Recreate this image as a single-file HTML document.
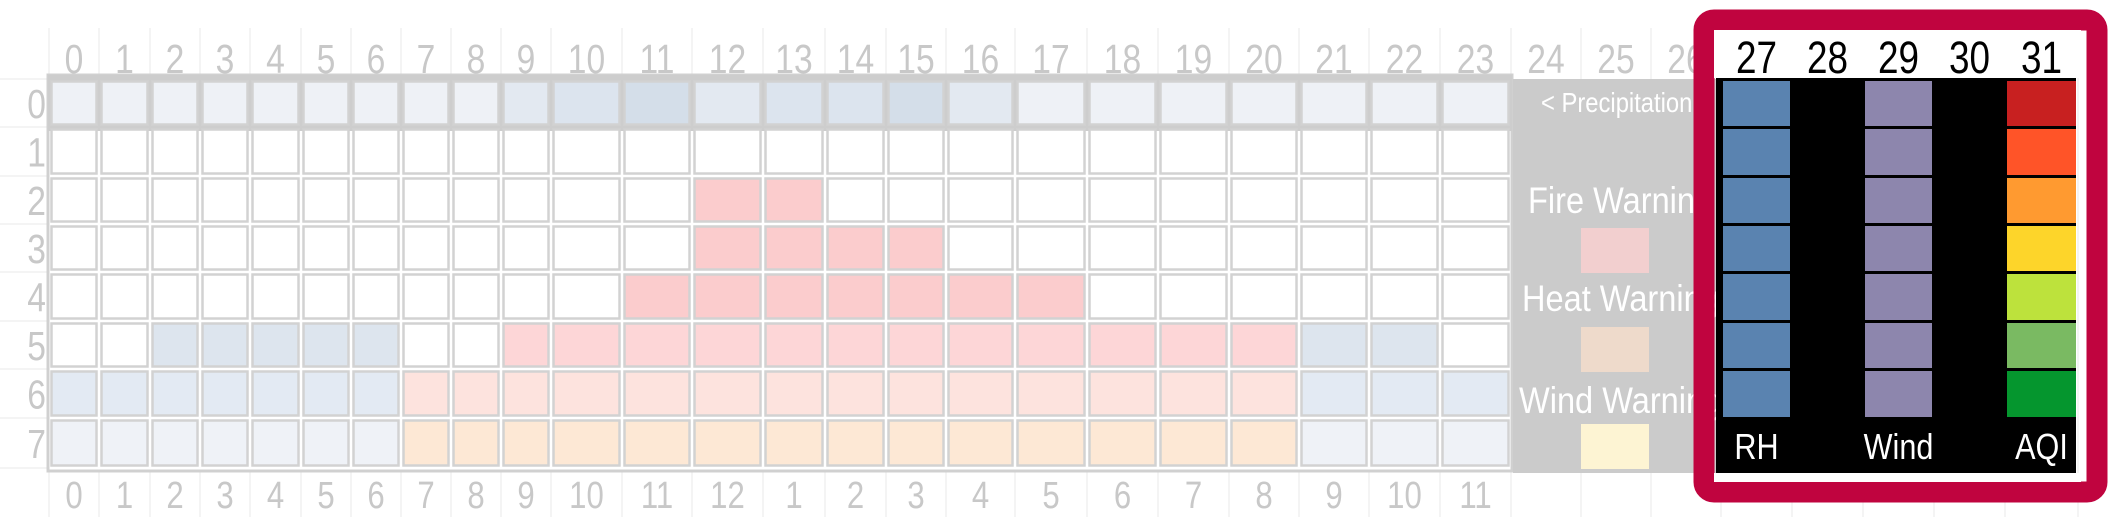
<!DOCTYPE html>
<html><head><meta charset="utf-8">
<style>
html,body{margin:0;padding:0;background:#fff;}
svg{display:block;}
text{font-family:"Liberation Sans Narrow","Liberation Sans",sans-serif;}
</style></head>
<body>
<svg id="chart" width="2122" height="517" viewBox="0 0 2122 517" xmlns="http://www.w3.org/2000/svg">
<g id="grid"></g>
<g id="heat"></g>
<g id="labels"></g>
<g id="legend"></g>
<g id="panel"></g>
</svg>
<script>
// ---- data ----
var colEdges = [49,99,150,200,250,301,351,401,451,501,551,622,692,763,825,886,946,1015,1087,1158,1229,1299,1369,1440,1511,1581,1651,1721,1792,1863,1934,2005,2078];
var rowEdges = [79,127,176,224,272,321,369,418,468];
var topLabels = ["0","1","2","3","4","5","6","7","8","9","10","11","12","13","14","15","16","17","18","19","20","21","22","23","24","25","26","27","28","29","30","31"];
var bottomLabels = ["0","1","2","3","4","5","6","7","8","9","10","11","12","1","2","3","4","5","6","7","8","9","10","11"];
var rowLabels = ["0","1","2","3","4","5","6","7"];
var precip = [1,1,1,1,1,1,1,1,1,2,3,4,2,3,3,4,2,1,1,1,1,1,1,1];
var row1 = "wwwwwwwwwwwwwwwwwwwwwwww";
var row2 = "wwwwwwwwwwwwffwwwwwwwwww";
var row3 = "wwwwwwwwwwwwffffwwwwwwww";
var row4 = "wwwwwwwwwwwfffffffwwwwww";
var row5 = "wwbbbbbwwggggggggggggbbw";
var row6 = "ccccccchhhhhhhhhhhhhhccc";
var row7 = "dddddddppppppppppppppddd";
var rhValues = [1,1,1,1,1,1,1];
var windValues = [1,1,1,1,1,1,1];
var aqiColors = ["#c82020","#ff5428","#ff9a30","#fdd52a","#bde23c","#7aba62","#05962e"];
var panelLabels = ["RH","Wind","AQI"];
var legendItems = ["Fire Warning","Heat Warning","Wind Warning"];
var legendColors = ["#f2cfcf","#eedacb","#fdf4d3"];

var precipPal = {1:"#eef1f6",2:"#e3e9f1",3:"#dce4ee",4:"#d4dee9"};
var catPal = {w:"#ffffff",f:"#fbcccd",g:"#fdd6d7",b:"#dde5ee",c:"#e3eaf3",h:"#fde3de",d:"#eff2f7",p:"#fde8d5"};
var NS="http://www.w3.org/2000/svg";
function mk(tag, attrs, parent){var e=document.createElementNS(NS,tag);for(var k in attrs)e.setAttribute(k,attrs[k]);parent.appendChild(e);return e;}
function txt(x,y,sx,attrs,parent){attrs.x=0;attrs.y=0;attrs.transform='translate('+x+','+y+') scale('+sx+',1)';return mk('text',attrs,parent);}
function cx(i){return (colEdges[i]+colEdges[i+1])/2;}
function cy(r){return (rowEdges[r]+rowEdges[r+1])/2;}

var grid=document.getElementById('grid'),heat=document.getElementById('heat'),labels=document.getElementById('labels'),legend=document.getElementById('legend'),panel=document.getElementById('panel');
colEdges.forEach(function(x){var l=mk('line',{x1:x,x2:x,y1:28,y2:517,stroke:'#f0f0f0','stroke-width':1.5},grid);

});
rowEdges.forEach(function(y){var l=mk('line',{x1:0,x2:49,y1:y,y2:y,stroke:'#f0f0f0','stroke-width':1.5},grid);

});

var fr=mk('rect',{x:48,y:75,width:1464,height:396,fill:'#fff',stroke:'#d0d0d0','stroke-width':3},heat);


var band=mk('rect',{x:48,y:75,width:1464,height:56,fill:'#cdcdcd'},heat);



var rows=[null,row1,row2,row3,row4,row5,row6,row7];
for(var r=0;r<8;r++){
  for(var c=0;c<24;c++){
    var fill = r===0 ? precipPal[precip[c]] : catPal[rows[r][c]];
    var x0=colEdges[c],x1=colEdges[c+1],y0=rowEdges[r],y1=rowEdges[r+1];
    var rc=mk('rect',{x:x0+2.5,y:y0+2.5,width:x1-x0-5,height:y1-y0-5,fill:fill,stroke:'#d2d2d2','stroke-width':2.5},heat);
    
    
  }
}
topLabels.forEach(function(t,i){
  if(i>=27) return;
  var e=txt(cx(i),73,0.82,{'text-anchor':'middle','font-size':41,fill:'#c8c8c8'},labels);
  e.textContent=t;
  
  
});
bottomLabels.forEach(function(t,i){
  var e=txt(cx(i),508,0.82,{'text-anchor':'middle','font-size':38,fill:'#c8c8c8'},labels);
  e.textContent=t;
  
  
});
rowLabels.forEach(function(t,i){
  var e=txt(46,cy(i)+15,0.82,{'text-anchor':'end','font-size':41,fill:'#c8c8c8'},labels);
  e.textContent=t;
  
  
});

var lg=mk('rect',{x:1513,y:79,width:220,height:394,fill:'#cbcbcb'},legend);


var pt=txt(1541,112,0.85,{'font-size':28,fill:'#fff'},legend);
pt.textContent='< Precipitation';


var lyT=[213,311,413],lyS=[228,327,424],lx=[1528,1522,1519];
legendItems.forEach(function(t,i){
  var e=txt(lx[i],lyT[i],0.88,{'font-size':37,fill:'#fff'},legend);
  e.textContent=t;
  
  
  var s=mk('rect',{x:1581,y:lyS[i],width:68,height:45,fill:legendColors[i]},legend);
  
  
});

var cr=mk('rect',{x:1704,y:20,width:393,height:472,rx:10,fill:'none',stroke:'#c0043f','stroke-width':21},panel);


var wb=mk('rect',{x:1714,y:30,width:367,height:48,fill:'#fff'},panel);


var wb2=mk('rect',{x:1714,y:473,width:367,height:9,fill:'#fff'},panel);


var bk=mk('rect',{x:1716,y:78,width:360,height:395,fill:'#000'},panel);


for(var i=27;i<=31;i++){
  var e=txt(cx(i),73,0.82,{'text-anchor':'middle','font-size':45,fill:'#000'},panel);
  e.textContent=topLabels[i];
  
  
}
function box(col,r,fill,name){
  var x0=colEdges[col],x1=colEdges[col+1],y0=rowEdges[r],y1=rowEdges[r+1];
  var b=mk('rect',{x:x0+2,y:y0+2,width:x1-x0-4,height:y1-y0-3,fill:fill},panel);
  
  
}
rhValues.forEach(function(v,r){ if(v) box(27,r,'#5a83b0','rh-box'); });
windValues.forEach(function(v,r){ if(v) box(29,r,'#8d86ad','wind-box'); });
aqiColors.forEach(function(c,r){ box(31,r,c,'aqi-box'); });
[27,29,31].forEach(function(col,i){
  var e=txt(cx(col),459,0.85,{'text-anchor':'middle','font-size':36,fill:'#fff'},panel);
  e.textContent=panelLabels[i];
  
  
});
</script>
</body></html>
